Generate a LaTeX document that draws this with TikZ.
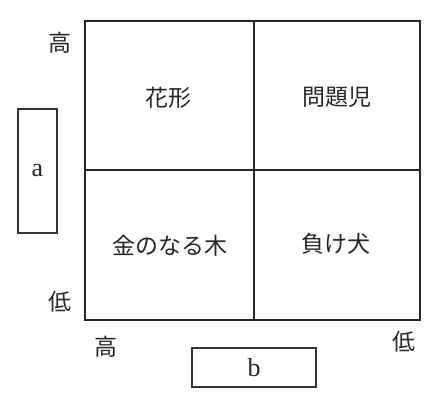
\documentclass[tikz,border=0pt]{standalone}
\usepackage{fontspec}
\newfontfamily\cjk{Noto Sans CJK JP}
\setmainfont{Liberation Serif}
\begin{document}
\begin{tikzpicture}[x=1pt,y=-1pt,
  grid/.style={draw=black!85,line width=1.2pt},
  labelbox/.style={draw=black!80,line width=2pt},
  jp/.style={font=\cjk\fontsize{23}{27}\selectfont,text=black!85,inner sep=0pt},
  lat/.style={font=\fontsize{26}{30}\selectfont,text=black!85,inner sep=0pt}]
\useasboundingbox (0,0) rectangle (440,408);
\coordinate (tl) at (85,21);
\coordinate (br) at (420,320);
\coordinate (mt) at (254,21);
\coordinate (mb) at (254,320);
\coordinate (ml) at (85,170);
\coordinate (mr) at (420,170);
\draw[grid] (tl) rectangle (br);
\draw[grid] (mt) -- (mb);
\draw[grid] (ml) -- (mr);
\node[labelbox,minimum width=39pt,minimum height=124pt,inner sep=0pt] (a) at (37.5,171) {};
\node[lat] at (a.center) {a};
\node[labelbox,minimum width=124pt,minimum height=39pt,inner sep=0pt] (b) at (254,367.5) {};
\node[lat] at (b.center) {b};
\node[jp] (q1) at (168,98) {花形};
\node[jp] (q2) at (337,97) {問題児};
\node[jp] (q3) at (170,246) {金のなる木};
\node[jp] (q4) at (336,244) {負け犬};
\node[jp] (hy) at (60,43) {高};
\node[jp] (ly) at (60,302) {低};
\node[jp] (hx) at (106,347) {高};
\node[jp] (lx) at (404,342) {低};
\end{tikzpicture}
\end{document}
